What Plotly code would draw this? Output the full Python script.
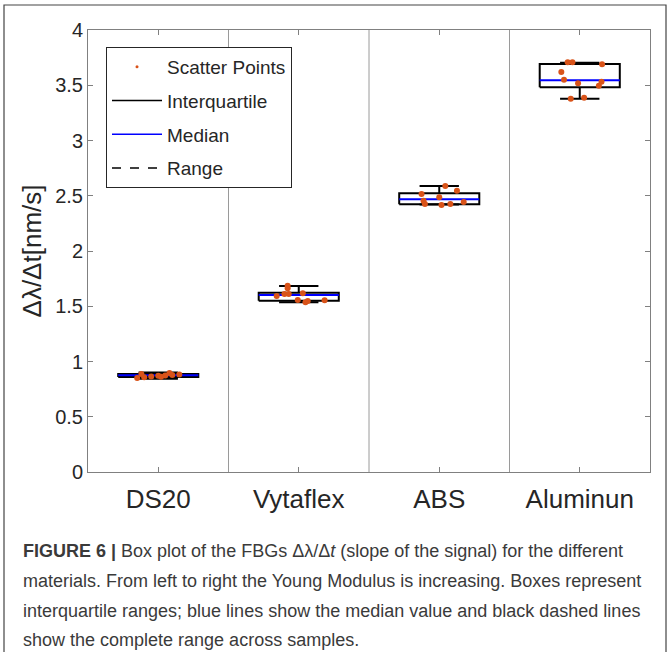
import plotly.graph_objects as go

# ---------------- data ----------------
categories = ["DS20", "Vytaflex", "ABS", "Aluminun"]
q1_vals = [0.860, 1.550, 2.423, 3.482]
median_vals = [0.875, 1.602, 2.468, 3.545]
q3_vals = [0.888, 1.623, 2.522, 3.692]
min_vals = [0.845, 1.536, 2.420, 3.378]
max_vals = [0.900, 1.683, 2.588, 3.704]

ds20_points = [0.850, 0.858, 0.865, 0.870, 0.874, 0.878, 0.882, 0.888, 0.895, 0.862]
ds20_jitter = [-0.15, -0.10, -0.05, 0.00, 0.05, 0.10, 0.15, -0.12, 0.08, 0.02]
vyta_points = [1.686, 1.662, 1.593, 1.611, 1.611, 1.617, 1.557, 1.536, 1.547, 1.554]
vyta_jitter = [-0.079, -0.079, -0.157, -0.102, -0.071, 0.029, -0.007, 0.048, 0.064, 0.184]
abs_points = [2.588, 2.546, 2.516, 2.486, 2.455, 2.425, 2.416, 2.425, 2.443]
abs_jitter = [0.043, 0.126, -0.126, 0.000, -0.112, -0.102, 0.016, 0.079, 0.174]
alu_points = [3.708, 3.708, 3.690, 3.620, 3.550, 3.518, 3.532, 3.496, 3.378, 3.387]
alu_jitter = [-0.086, -0.052, 0.159, -0.131, -0.112, -0.012, 0.155, 0.136, -0.064, 0.031]

points = [ds20_points, vyta_points, abs_points, alu_points]
jitters = [ds20_jitter, vyta_jitter, abs_jitter, alu_jitter]

y_ticks = [0, 0.5, 1, 1.5, 2, 2.5, 3, 3.5, 4]
y_tick_labels = ["0", "0.5", "1", "1.5", "2", "2.5", "3", "3.5", "4"]

# ---------------- style ----------------
FONT = "Liberation Sans"
BOX_HALF = 0.285
CAP_HALF = 0.14
ORANGE = "#D95319"
BLUE = "#0000FF"
W, H = 670, 652
ML, MR, MT, MB = 88, 20, 30, 180
PW = W - ML - MR
PH = H - MT - MB


def px_x(px):
    return (px - ML) / PW


def px_y(py):
    return (H - MB - py) / PH


fig = go.Figure()

for i, cat in enumerate(categories):
    c = i + 1
    # whiskers (range)
    fig.add_trace(go.Scatter(
        x=[c, c, None, c - CAP_HALF, c + CAP_HALF, None, c, c, None, c - CAP_HALF, c + CAP_HALF],
        y=[q3_vals[i], max_vals[i], None, max_vals[i], max_vals[i], None,
           q1_vals[i], min_vals[i], None, min_vals[i], min_vals[i]],
        mode="lines", line=dict(color="black", width=2), showlegend=False, hoverinfo="skip"))
    # box (interquartile)
    fig.add_trace(go.Scatter(
        x=[c - BOX_HALF, c + BOX_HALF, c + BOX_HALF, c - BOX_HALF, c - BOX_HALF],
        y=[q1_vals[i], q1_vals[i], q3_vals[i], q3_vals[i], q1_vals[i]],
        mode="lines", line=dict(color="black", width=2), showlegend=False, hoverinfo="skip"))
    # median
    fig.add_trace(go.Scatter(
        x=[c - BOX_HALF, c + BOX_HALF], y=[median_vals[i], median_vals[i]],
        mode="lines", line=dict(color=BLUE, width=2), showlegend=False, hoverinfo="skip"))
    # points
    fig.add_trace(go.Scatter(
        x=[c + j for j in jitters[i]], y=points[i], mode="markers",
        marker=dict(color=ORANGE, size=6), showlegend=False))

# legend entries
fig.add_trace(go.Scatter(x=[None], y=[None], mode="markers", name="Scatter Points",
                         legendgroup="a", marker=dict(color=ORANGE, size=3)))
fig.add_trace(go.Scatter(x=[None], y=[None], mode="lines", name="Interquartile",
                         legendgroup="b", line=dict(color="black", width=1.5)))
fig.add_trace(go.Scatter(x=[None], y=[None], mode="lines", name="Median",
                         legendgroup="c", line=dict(color=BLUE, width=1.5)))
fig.add_trace(go.Scatter(x=[None], y=[None], mode="lines", name="Range",
                         legendgroup="d", line=dict(color="black", width=1.5, dash="dash")))

shapes = []
for s in [1.5, 2.5, 3.5]:
    shapes.append(dict(type="line", xref="x", yref="paper", x0=s, x1=s, y0=0, y1=1,
                       line=dict(color="#9a9a9a", width=1), layer="below"))
# outer frame around figure and caption (open at the bottom, as cropped)
shapes.append(dict(type="path", xref="paper", yref="paper",
                   path=(f"M {px_x(4)} {px_y(660)} L {px_x(4)} {px_y(5)} "
                         f"L {px_x(666)} {px_y(5)} L {px_x(666)} {px_y(660)}"),
                   line=dict(color="#444444", width=1.2)))

annotations = []
caption_lines = [
    "<b>FIGURE 6 |</b> Box plot of the FBGs Δλ/Δ<i>t</i> (slope of the signal) for the different",
    "materials. From left to right the Young Modulus is increasing. Boxes represent",
    "interquartile ranges; blue lines show the median value and black dashed lines",
    "show the complete range across samples.",
]
caption_y = [551, 581, 611, 640]
for line, yy in zip(caption_lines, caption_y):
    annotations.append(dict(text=line, xref="paper", yref="paper", x=px_x(21), y=px_y(yy),
                            xanchor="left", yanchor="middle", showarrow=False, align="left",
                            font=dict(family=FONT, size=18, color="#3a3a3a")))

fig.update_layout(
    width=W, height=H,
    margin=dict(l=ML, r=MR, t=MT, b=MB),
    paper_bgcolor="white", plot_bgcolor="white",
    font=dict(family=FONT, color="#262626"),
    shapes=shapes, annotations=annotations,
    legend=dict(x=px_x(106), y=px_y(47), xanchor="left", yanchor="top",
                bgcolor="white", bordercolor="#262626", borderwidth=1,
                font=dict(family=FONT, size=19, color="#262626"),
                itemwidth=50, tracegroupgap=6),
    xaxis=dict(range=[0.5, 4.5], tickvals=[1, 2, 3, 4], ticktext=categories,
               ticks="inside", ticklen=5, tickcolor="#808080",
               showline=True, linecolor="#808080", linewidth=1, mirror="ticks",
               showgrid=False, zeroline=False, ticklabelstandoff=4,
               tickfont=dict(family=FONT, size=26, color="#262626")),
    yaxis=dict(range=[0, 4], tickvals=y_ticks, ticktext=y_tick_labels,
               ticks="inside", ticklen=5, tickcolor="#808080",
               showline=True, linecolor="#808080", linewidth=1, mirror="ticks",
               showgrid=False, zeroline=False,
               tickfont=dict(family=FONT, size=20, color="#262626"),
               title=dict(text="Δλ/Δt[nm/s]", font=dict(family=FONT, size=26, color="#262626"),
                          standoff=6)),
)

fig.write_html("out.html", config={"displayModeBar": False},
               post_script="document.body.style.margin='0';")
